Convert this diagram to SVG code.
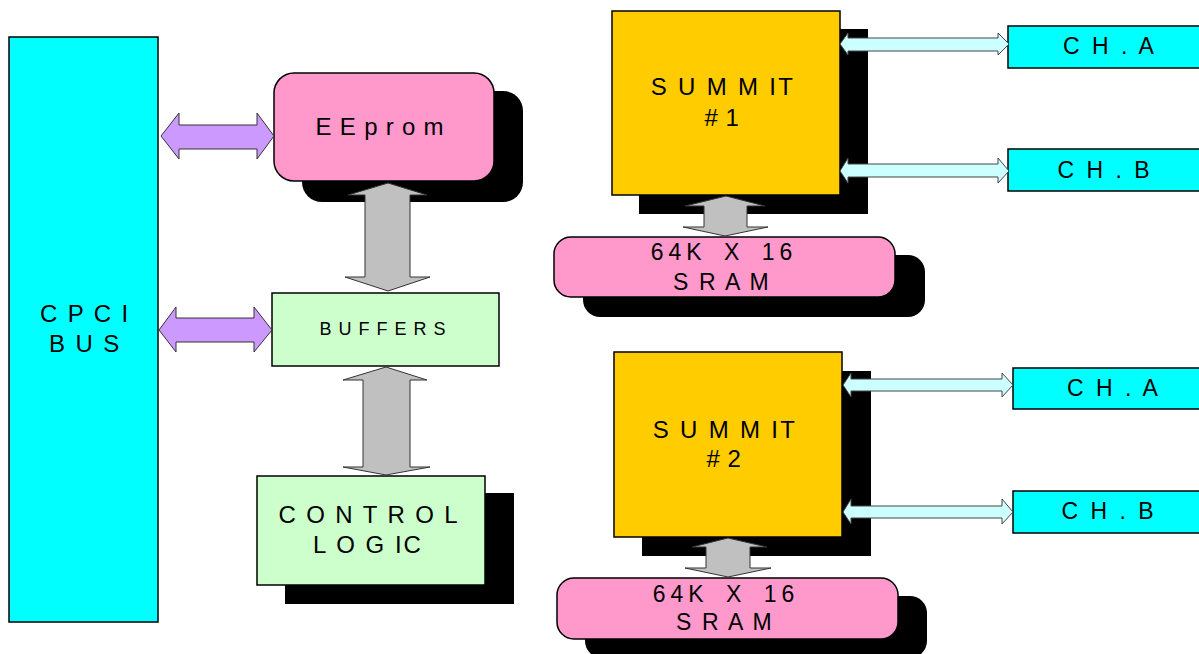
<svg xmlns="http://www.w3.org/2000/svg" width="1199" height="654" viewBox="0 0 1199 654">
<style>
text{font-family:"Liberation Sans",Arial,sans-serif;fill:#000;text-anchor:middle}
.t24{font-size:24px;letter-spacing:1.9px}
.t23{font-size:23px;letter-spacing:3px}
.sh{fill:#000}
.bx{stroke:#000;stroke-width:1.5}
.cyan{fill:#00FFFF}
.pink{fill:#FF99CC}
.gold{fill:#FFCC00}
.green{fill:#CCFFCC}
.ga{fill:#C0C0C0;stroke:#333;stroke-width:1}
.pa{fill:#CC99FF;stroke:#333;stroke-width:1}
.ca{fill:#CCFFFF;stroke:#444;stroke-width:1}
</style>

<g id="cpci-bus">
<rect class="bx cyan" x="9" y="37" width="149" height="585"/>
<text class="t24" x="85" y="322">C P C I</text>
<text class="t24" x="85" y="352">B U S</text>
</g>

<g id="eeprom">
<rect class="sh" x="302" y="91" width="221" height="111" rx="20"/>
<rect class="bx pink" x="274" y="73" width="220" height="108" rx="20"/>
<text x="380" y="135" style="font-size:24px;letter-spacing:0.8px">E E p r o m</text>
</g>

<g id="buffers">
<rect class="bx green" x="272" y="293" width="227" height="73"/>
<text x="383" y="335" style="font-size:18px;letter-spacing:1px">B U F F E R S</text>
</g>

<g id="control-logic">
<rect class="sh" x="285" y="493" width="229" height="111"/>
<rect class="bx green" x="257" y="476" width="228" height="109"/>
<text class="t24" x="369" y="523">C O N T R O L</text>
<text class="t24" x="368" y="553" style="letter-spacing:2px">L O G IC</text>
</g>

<g id="summit1">
<rect class="sh" x="639" y="29" width="229" height="185"/>
<rect class="bx gold" x="612" y="11" width="228" height="184"/>
<text class="t24" x="723" y="95" style="letter-spacing:2.3px">S U M M IT</text>
<text class="t24" x="722" y="126" style="letter-spacing:0.5px"># 1</text>
</g>

<g id="sram1">
<rect class="sh" x="583" y="255" width="342" height="62" rx="17"/>
<rect class="bx pink" x="554" y="237" width="341" height="60" rx="17"/>
<text x="724" y="260" style="font-size:23px;letter-spacing:5px;word-spacing:6px">64K X 16</text>
<text class="t23" x="722" y="290" style="letter-spacing:2.1px">S R A M</text>
</g>

<g id="summit2">
<rect class="sh" x="642" y="371" width="229" height="185"/>
<rect class="bx gold" x="614" y="352" width="228" height="185"/>
<text class="t24" x="725" y="438" style="letter-spacing:2.3px">S U M M IT</text>
<text class="t24" x="724" y="467" style="letter-spacing:0.5px"># 2</text>
</g>

<g id="sram2">
<rect class="sh" x="585" y="596" width="342" height="62" rx="17"/>
<rect class="bx pink" x="557" y="578" width="341" height="61" rx="17"/>
<text x="726" y="602" style="font-size:23px;letter-spacing:5px;word-spacing:6px">64K X 16</text>
<text class="t23" x="725" y="630" style="letter-spacing:2.1px">S R A M</text>
</g>

<g id="ch-a-1">
<rect class="bx cyan" x="1008" y="26" width="195" height="42"/>
<text class="t23" x="1110" y="54">C H . A</text>
</g>
<g id="ch-b-1">
<rect class="bx cyan" x="1008" y="149" width="195" height="42"/>
<text class="t23" x="1105" y="178">C H . B</text>
</g>
<g id="ch-a-2">
<rect class="bx cyan" x="1013" y="368" width="190" height="41"/>
<text class="t23" x="1114" y="396">C H . A</text>
</g>
<g id="ch-b-2">
<rect class="bx cyan" x="1013" y="491" width="190" height="42"/>
<text class="t23" x="1109" y="519">C H . B</text>
</g>

<g id="connectors">
<polygon class="pa" points="161,136 179,113 179,125 257,125 257,113 274,136 257,159 257,149 179,149 179,159"/>
<polygon class="pa" points="159,330 176,307 176,318 254,318 254,307 272,330 254,352 254,342 176,342 176,352"/>
<polygon class="ga" points="388,183 427,195 410,195 410,277 430,277 388,291 345,277 365,277 365,195 348,195"/>
<polygon class="ga" points="386,367 427,380 410,380 410,467 430,467 386,475 343,467 363,467 363,380 343,380"/>
<polygon class="ga" points="726,196 765,206 747,206 747,227 768,227 725,236 683,227 704,227 704,206 685,206"/>
<polygon class="ga" points="728,538 767,547 750,547 750,568 771,568 728,577 685,568 706,568 706,547 692,547"/>
<polygon class="ca" points="840,44 848,33 848,38 998,38 998,33 1009,44 998,55 998,51 848,51 848,55"/>
<polygon class="ca" points="840,171 848,158 848,164 998,164 998,158 1009,171 998,183 998,177 848,177 848,183"/>
<polygon class="ca" points="843,385 851,373 851,379 1002,379 1002,373 1013,385 1002,397 1002,391 851,391 851,397"/>
<polygon class="ca" points="843,512 851,499 851,506 1002,506 1002,499 1013,512 1002,524 1002,518 851,518 851,524"/>
</g>
</svg>
